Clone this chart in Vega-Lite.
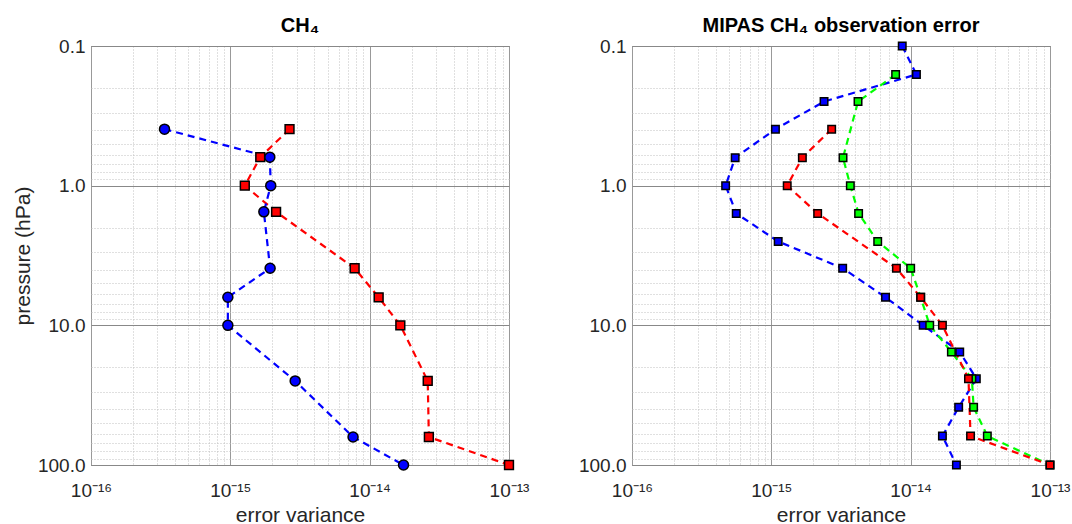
{
  "$schema": "https://vega.github.io/schema/vega-lite/v6.json",
  "background": "white",
  "padding": {"left": 11, "top": 15, "right": 5, "bottom": 5},
  "spacing": 123,
  "bounds": "flush",
  "config": {
    "font": "Liberation Sans",
    "view": {"stroke": "#666666", "strokeWidth": 1},
    "axis": {"labelFont": "Liberation Sans", "titleFont": "Liberation Sans", "labelColor": "#262626", "titleColor": "#262626", "minExtent": 0},
    "title": {"font": "Liberation Sans", "fontSize": 20, "fontWeight": "bold", "color": "#000000"}
  },
  "datasets": {
    "left": [
      {"s": "red", "p": 0.394, "v": 2.66e-15},
      {"s": "red", "p": 0.625, "v": 1.64e-15},
      {"s": "red", "p": 1.0, "v": 1.27e-15},
      {"s": "red", "p": 1.54, "v": 2.13e-15},
      {"s": "red", "p": 3.9, "v": 7.8e-15},
      {"s": "red", "p": 6.3, "v": 1.16e-14},
      {"s": "red", "p": 10, "v": 1.66e-14},
      {"s": "red", "p": 25, "v": 2.61e-14},
      {"s": "red", "p": 63, "v": 2.66e-14},
      {"s": "red", "p": 100, "v": 1e-13},
      {"s": "blue", "p": 0.394, "v": 3.37e-16},
      {"s": "blue", "p": 0.625, "v": 1.92e-15},
      {"s": "blue", "p": 1.0, "v": 1.95e-15},
      {"s": "blue", "p": 1.54, "v": 1.74e-15},
      {"s": "blue", "p": 3.9, "v": 1.93e-15},
      {"s": "blue", "p": 6.3, "v": 9.6e-16},
      {"s": "blue", "p": 10, "v": 9.6e-16},
      {"s": "blue", "p": 25, "v": 2.92e-15},
      {"s": "blue", "p": 63, "v": 7.6e-15},
      {"s": "blue", "p": 100, "v": 1.75e-14}
    ],
    "right": [
      {"s": "blue", "p": 0.1, "v": 8.7e-15},
      {"s": "blue", "p": 0.16, "v": 1.1e-14},
      {"s": "blue", "p": 0.25, "v": 2.39e-15},
      {"s": "blue", "p": 0.394, "v": 1.07e-15},
      {"s": "blue", "p": 0.63, "v": 5.5e-16},
      {"s": "blue", "p": 1.0, "v": 4.7e-16},
      {"s": "blue", "p": 1.58, "v": 5.6e-16},
      {"s": "blue", "p": 2.51, "v": 1.12e-15},
      {"s": "blue", "p": 3.9, "v": 3.25e-15},
      {"s": "blue", "p": 6.3, "v": 6.6e-15},
      {"s": "blue", "p": 10, "v": 1.23e-14},
      {"s": "blue", "p": 15.5, "v": 2.25e-14},
      {"s": "blue", "p": 24.1, "v": 2.96e-14},
      {"s": "blue", "p": 38.6, "v": 2.21e-14},
      {"s": "blue", "p": 62, "v": 1.69e-14},
      {"s": "blue", "p": 100, "v": 2.13e-14},
      {"s": "green", "p": 0.16, "v": 7.8e-15},
      {"s": "green", "p": 0.25, "v": 4.19e-15},
      {"s": "green", "p": 0.63, "v": 3.27e-15},
      {"s": "green", "p": 1.0, "v": 3.69e-15},
      {"s": "green", "p": 1.58, "v": 4.23e-15},
      {"s": "green", "p": 2.51, "v": 5.8e-15},
      {"s": "green", "p": 3.9, "v": 1.0e-14},
      {"s": "green", "p": 6.3, "v": 1.18e-14},
      {"s": "green", "p": 10, "v": 1.37e-14},
      {"s": "green", "p": 15.5, "v": 1.96e-14},
      {"s": "green", "p": 24.1, "v": 2.75e-14},
      {"s": "green", "p": 38.6, "v": 2.83e-14},
      {"s": "green", "p": 62, "v": 3.55e-14},
      {"s": "green", "p": 100, "v": 1e-13},
      {"s": "red", "p": 0.394, "v": 2.71e-15},
      {"s": "red", "p": 0.63, "v": 1.67e-15},
      {"s": "red", "p": 1.0, "v": 1.3e-15},
      {"s": "red", "p": 1.58, "v": 2.15e-15},
      {"s": "red", "p": 3.9, "v": 7.9e-15},
      {"s": "red", "p": 6.3, "v": 1.18e-14},
      {"s": "red", "p": 10, "v": 1.69e-14},
      {"s": "red", "p": 24.1, "v": 2.6e-14},
      {"s": "red", "p": 62, "v": 2.69e-14},
      {"s": "red", "p": 100, "v": 1e-13}
    ]
  },
  "hconcat": [
    {
      "width": 418,
      "height": 419,
      "title": {"text": "CH₄", "offset": -15, "baseline": "alphabetic"},
      "data": {"name": "left"},
      "layer": [
        {
          "mark": {"type": "line", "strokeDash": [7, 5], "strokeWidth": 2.2},
          "encoding": {
            "x": {"field": "v", "type": "quantitative", "scale": {"type": "log", "domain": [1e-16, 1e-13]},
              "axis": {"orient": "top", "values": [2e-16, 3e-16, 4e-16, 5e-16, 6e-16, 7e-16, 8e-16, 9e-16, 2e-15, 3e-15, 4e-15, 5e-15, 6e-15, 7e-15, 8e-15, 9e-15, 2e-14, 3e-14, 4e-14, 5e-14, 6e-14, 7e-14, 8e-14, 9e-14], "grid": true, "gridDash": [1, 2], "gridColor": "#c0c0c0", "labels": false, "ticks": false, "domain": false, "title": null, "minExtent": 0, "maxExtent": 0, "labelPadding": 0}},
            "y": {"field": "p", "type": "quantitative", "scale": {"type": "log", "domain": [0.1, 100], "reverse": true},
              "axis": {"orient": "right", "values": [0.2, 0.3, 0.4, 0.5, 0.6, 0.7, 0.8, 0.9, 2, 3, 4, 5, 6, 7, 8, 9, 20, 30, 40, 50, 60, 70, 80, 90], "grid": true, "gridDash": [1, 2], "gridColor": "#c0c0c0", "labels": false, "ticks": false, "domain": false, "title": null, "minExtent": 0, "maxExtent": 0, "labelPadding": 0}},
            "color": {"field": "s", "type": "nominal", "scale": {"domain": ["blue", "red", "green"], "range": ["#0000ff", "#ff0000", "#00ff00"]}, "legend": null},
            "order": {"field": "p", "type": "quantitative"}
          }
        },
        {
          "mark": {"type": "point", "filled": true, "stroke": "#000000", "strokeWidth": 1.5, "opacity": 1},
          "encoding": {
            "x": {"field": "v", "type": "quantitative", "scale": {"type": "log", "domain": [1e-16, 1e-13]},
              "axis": {"orient": "bottom", "values": [1e-16, 1e-15, 1e-14, 1e-13], "grid": true, "gridColor": "#999999", "gridWidth": 1, "domain": false, "ticks": false, "labelFontSize": 19, "labelPadding": 16, "labelFlush": false, "labelOverlap": false, "labelExpr": "'10' + (datum.value < 5e-16 ? '⁻¹⁶' : datum.value < 5e-15 ? '⁻¹⁵' : datum.value < 5e-14 ? '⁻¹⁴' : '⁻¹³')", "title": "error variance", "titleFontSize": 21, "titleFontWeight": "normal", "titlePadding": 4}},
            "y": {"field": "p", "type": "quantitative", "scale": {"type": "log", "domain": [0.1, 100], "reverse": true},
              "axis": {"orient": "left", "values": [0.1, 1, 10, 100], "grid": true, "gridColor": "#888888", "gridWidth": 1, "domain": false, "ticks": false, "labelFontSize": 19, "labelPadding": 6, "labelFlush": false, "labelOverlap": false, "labelExpr": "format(datum.value, '.1f')", "title": "pressure (hPa)", "titleFontSize": 21, "titleFontWeight": "normal", "titlePadding": 4}},
            "fill": {"field": "s", "type": "nominal", "scale": {"domain": ["blue", "red", "green"], "range": ["#0000ff", "#ff0000", "#00ff00"]}, "legend": null},
            "shape": {"field": "s", "type": "nominal", "scale": {"domain": ["blue", "red", "green"], "range": ["circle", "square", "square"]}, "legend": null},
            "size": {"field": "s", "type": "nominal", "scale": {"domain": ["blue", "red", "green"], "range": [100, 56, 56]}, "legend": null}
          }
        }
      ],
      "resolve": {"axis": {"x": "independent", "y": "independent"}}
    },
    {
      "width": 418,
      "height": 419,
      "title": {"text": "MIPAS CH₄ observation error", "offset": -15, "baseline": "alphabetic"},
      "data": {"name": "right"},
      "layer": [
        {
          "mark": {"type": "line", "strokeDash": [7, 5], "strokeWidth": 2.2},
          "encoding": {
            "x": {"field": "v", "type": "quantitative", "scale": {"type": "log", "domain": [1e-16, 1e-13]},
              "axis": {"orient": "top", "values": [2e-16, 3e-16, 4e-16, 5e-16, 6e-16, 7e-16, 8e-16, 9e-16, 2e-15, 3e-15, 4e-15, 5e-15, 6e-15, 7e-15, 8e-15, 9e-15, 2e-14, 3e-14, 4e-14, 5e-14, 6e-14, 7e-14, 8e-14, 9e-14], "grid": true, "gridDash": [1, 2], "gridColor": "#c0c0c0", "labels": false, "ticks": false, "domain": false, "title": null, "minExtent": 0, "maxExtent": 0, "labelPadding": 0}},
            "y": {"field": "p", "type": "quantitative", "scale": {"type": "log", "domain": [0.1, 100], "reverse": true},
              "axis": {"orient": "right", "values": [0.2, 0.3, 0.4, 0.5, 0.6, 0.7, 0.8, 0.9, 2, 3, 4, 5, 6, 7, 8, 9, 20, 30, 40, 50, 60, 70, 80, 90], "grid": true, "gridDash": [1, 2], "gridColor": "#c0c0c0", "labels": false, "ticks": false, "domain": false, "title": null, "minExtent": 0, "maxExtent": 0, "labelPadding": 0}},
            "color": {"field": "s", "type": "nominal", "scale": {"domain": ["blue", "red", "green"], "range": ["#0000ff", "#ff0000", "#00ff00"]}, "legend": null},
            "order": {"field": "p", "type": "quantitative"}
          }
        },
        {
          "mark": {"type": "square", "filled": true, "stroke": "#000000", "strokeWidth": 1.5, "opacity": 1, "size": 56},
          "encoding": {
            "x": {"field": "v", "type": "quantitative", "scale": {"type": "log", "domain": [1e-16, 1e-13]},
              "axis": {"orient": "bottom", "values": [1e-16, 1e-15, 1e-14, 1e-13], "grid": true, "gridColor": "#999999", "gridWidth": 1, "domain": false, "ticks": false, "labelFontSize": 19, "labelPadding": 16, "labelFlush": false, "labelOverlap": false, "labelExpr": "'10' + (datum.value < 5e-16 ? '⁻¹⁶' : datum.value < 5e-15 ? '⁻¹⁵' : datum.value < 5e-14 ? '⁻¹⁴' : '⁻¹³')", "title": "error variance", "titleFontSize": 21, "titleFontWeight": "normal", "titlePadding": 4}},
            "y": {"field": "p", "type": "quantitative", "scale": {"type": "log", "domain": [0.1, 100], "reverse": true},
              "axis": {"orient": "left", "values": [0.1, 1, 10, 100], "grid": true, "gridColor": "#888888", "gridWidth": 1, "domain": false, "ticks": false, "labelFontSize": 19, "labelPadding": 6, "labelFlush": false, "labelOverlap": false, "labelExpr": "format(datum.value, '.1f')", "title": null}},
            "fill": {"field": "s", "type": "nominal", "scale": {"domain": ["blue", "red", "green"], "range": ["#0000ff", "#ff0000", "#00ff00"]}, "legend": null}
          }
        }
      ],
      "resolve": {"axis": {"x": "independent", "y": "independent"}}
    }
  ]
}
